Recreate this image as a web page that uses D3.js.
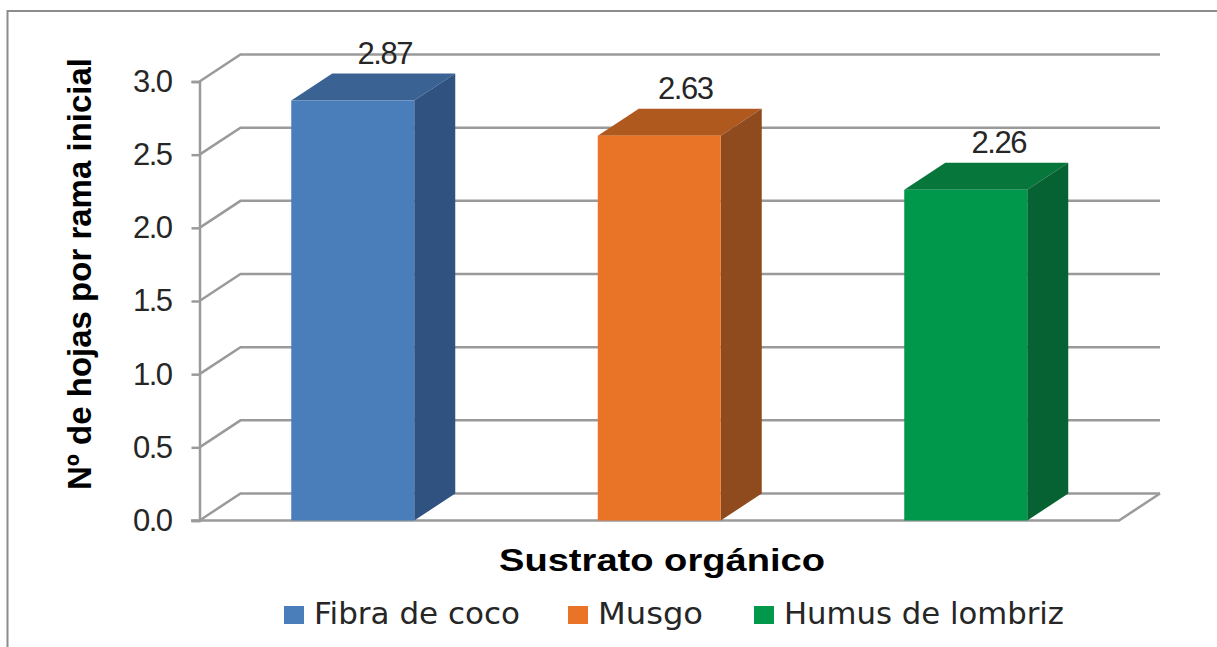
<!DOCTYPE html>
<html>
<head>
<meta charset="utf-8">
<script src="https://cdn.jsdelivr.net/npm/d3@7"></script>
<style>
  body { margin: 0; background: #fff; }
  svg { display: block; }
</style>
</head>
<body>
<script>
'use strict'

var categories = ["Fibra de coco", "Musgo", "Humus de lombriz"];
var values = [2.87, 2.63, 2.26];
var valueLabels = ["2.87", "2.63", "2.26"];
var ticks = [0, 0.5, 1, 1.5, 2, 2.5, 3];
var frontColors = ["#4a7ebb", "#e97326", "#00994c"];
var topColors = ["#3a6394", "#b0591f", "#06763b"];
var sideColors = ["#2f5280", "#8f4a1e", "#066233"];

var w = 1217;
var h = 647;

// depth of the fake 3d box
var depthX = 41;
var depthY = -27;

var x0 = 199.5;
var x1 = 1119;

var y = d3.scaleLinear().domain([0, 3]).range([520.5, 81.5]);
var x = d3.scaleBand().domain(categories).range([x0, x1]);
var barW = 123;

var svg = d3.select("body")
  .append("svg")
  .attr("width", w)
  .attr("height", h);

// outer frame, the right side is cut off in the original
svg.append("path")
  .attr("d", "M7.5,647V11H1217")
  .attr("fill", "none")
  .attr("stroke", "#8c8c8c")
  .attr("stroke-width", 2);

var gridColor = "#9a9a9a";

// back wall gridlines and the slanted part
svg.selectAll("path.grid")
  .data(ticks)
  .enter()
  .append("path")
  .attr("class", "grid")
  .attr("fill", "none")
  .attr("stroke", gridColor)
  .attr("stroke-width", 2.5)
  .attr("d", function(d) {
    return "M" + x0 + "," + y(d) + "L" + (x0 + depthX) + "," + (y(d) + depthY) + "H" + (x1 + depthX);
  });

// floor front edge
svg.append("path")
  .attr("fill", "none")
  .attr("stroke", gridColor)
  .attr("stroke-width", 2.5)
  .attr("d", "M191," + y(0) + "H" + x1 + "L" + (x1 + depthX) + "," + (y(0) + depthY));

// y axis
var axis = svg.append("g")
  .attr("transform", "translate(" + x0 + ",0)")
  .call(d3.axisLeft(y).tickValues(ticks).tickSize(8).tickPadding(20).tickFormat(d3.format(".1f")));

axis.select(".domain")
  .attr("stroke", gridColor)
  .attr("stroke-width", 2.5);
axis.selectAll(".tick line")
  .attr("stroke", gridColor)
  .attr("stroke-width", 2.5);
axis.selectAll(".tick text")
  .attr("fill", "#262626")
  .style("font-family", "'Liberation Sans', sans-serif")
  .style("font-size", "31px")
  .style("letter-spacing", "-1.5px");

// bars
var bars = svg.selectAll("g.bar")
  .data(values)
  .enter()
  .append("g")
  .attr("class", "bar");

function left(i) {
  return x(categories[i]) + (x.bandwidth() - barW) / 2;
}

bars.append("path")
  .attr("fill", function(d, i) { return topColors[i]; })
  .attr("d", function(d, i) {
    var l = left(i);
    return "M" + l + "," + y(d) + "l" + depthX + "," + depthY + "h" + barW + "l" + (-depthX) + "," + (-depthY) + "z";
  });

bars.append("path")
  .attr("fill", function(d, i) { return sideColors[i]; })
  .attr("d", function(d, i) {
    var r = left(i) + barW;
    return "M" + r + "," + y(d) + "l" + depthX + "," + depthY + "V" + (y(0) + depthY) + "L" + r + "," + y(0) + "z";
  });

bars.append("rect")
  .attr("x", function(d, i) { return left(i); })
  .attr("y", function(d) { return y(d); })
  .attr("width", barW)
  .attr("height", function(d) { return y(0) - y(d); })
  .attr("fill", function(d, i) { return frontColors[i]; });

// value labels were moved by hand in the original, so each has its own shift
var labelShift = [32, 26, 33];
bars.append("text")
  .attr("x", function(d, i) { return left(i) + barW / 2 + labelShift[i]; })
  .attr("y", function(d) { return y(d) - 37; })
  .attr("text-anchor", "middle")
  .attr("fill", "#262626")
  .style("font-family", "'Liberation Sans', sans-serif")
  .style("font-size", "31px")
  .style("letter-spacing", "-1.5px")
  .text(function(d, i) { return valueLabels[i]; });

// axis titles
svg.append("text")
  .attr("transform", "translate(91,274) rotate(-90)")
  .attr("text-anchor", "middle")
  .attr("fill", "#000")
  .style("font-family", "'Liberation Sans', sans-serif")
  .style("font-weight", "bold")
  .style("font-size", "33px")
  .text("Nº de hojas por rama inicial");

svg.append("text")
  .attr("x", 662)
  .attr("y", 571)
  .attr("text-anchor", "middle")
  .attr("fill", "#000")
  .attr("textLength", 326)
  .attr("lengthAdjust", "spacingAndGlyphs")
  .style("font-family", "'Liberation Sans', sans-serif")
  .style("font-weight", "bold")
  .style("font-size", "32px")
  .text("Sustrato orgánico");

// legend
var legendX = [284, 568, 754];
var legendLen = [206, 105, 280];
var legend = svg.selectAll("g.legend")
  .data(categories)
  .enter()
  .append("g")
  .attr("class", "legend")
  .attr("transform", function(d, i) { return "translate(" + legendX[i] + ",606)"; });

legend.append("rect")
  .attr("width", 20)
  .attr("height", 18)
  .attr("fill", function(d, i) { return frontColors[i]; });

legend.append("text")
  .attr("x", 30)
  .attr("y", 18)
  .attr("fill", "#262626")
  .attr("textLength", function(d, i) { return legendLen[i]; })
  .attr("lengthAdjust", "spacingAndGlyphs")
  .style("font-family", "'DejaVu Sans', sans-serif")
  .style("font-size", "30px")
  .text(function(d) { return d; });
</script>
</body>
</html>
